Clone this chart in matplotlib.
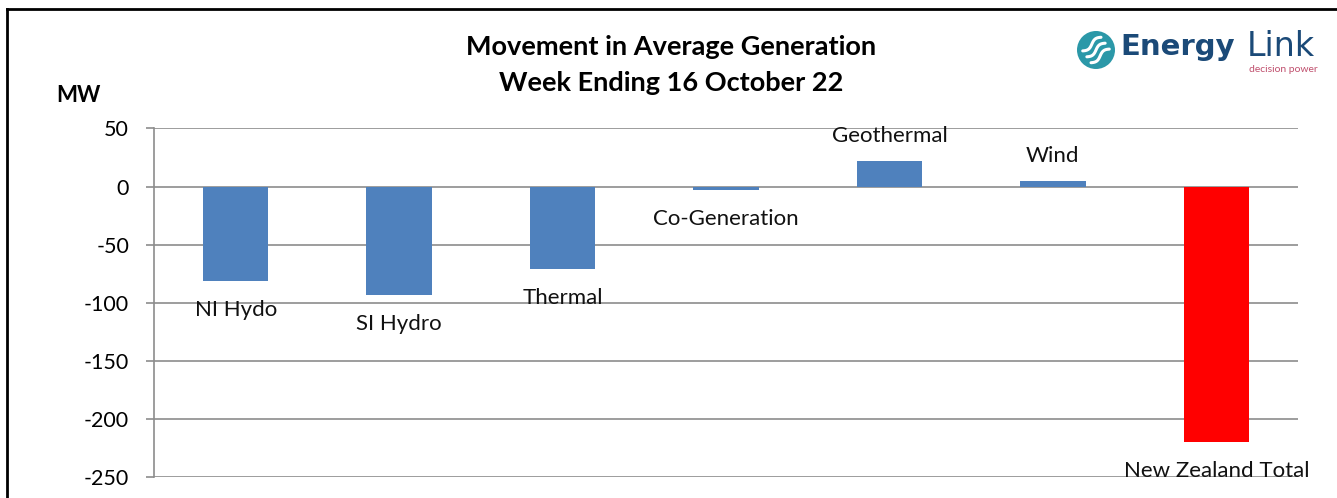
import numpy as np
import matplotlib
matplotlib.use('Agg')
import matplotlib.pyplot as plt
from matplotlib.patches import Circle
from matplotlib.lines import Line2D

plt.rcParams['font.family'] = ['Lato', 'DejaVu Sans']

# ---- data ----
categories = ['NI Hydo', 'SI Hydro', 'Thermal', 'Co-Generation',
              'Geothermal', 'Wind', 'New Zealand Total']
movement_mw = [-81, -93, -71, -3, 22, 5, -220]
bar_colors = ['#4F81BD'] * 6 + ['#FF0000']
y_ticks = [50, 0, -50, -100, -150, -200, -250]

title_lines = ['Movement in Average Generation', 'Week Ending 16 October 22']

W, H = 1337, 498
fig = plt.figure(figsize=(W / 100, H / 100), dpi=100)
ax = fig.add_axes([154 / W, 1 - 477 / H, (1298 - 154) / W, (477 - 128.5) / H])

x = np.arange(len(categories))
ax.bar(x, movement_mw, width=0.4, color=bar_colors, zorder=3)

ax.set_xlim(-0.5, len(categories) - 0.5)
ax.set_ylim(-250, 50)
ax.set_yticks(y_ticks)
ax.set_yticklabels([str(v) for v in y_ticks], fontsize=15.5)
ax.set_xticks([])

grid_col = '#8C8C8C'
ax.yaxis.grid(True, color=grid_col, linewidth=1.2, zorder=0)
for s in ['top', 'right', 'bottom']:
    ax.spines[s].set_visible(False)
ax.spines['left'].set_color(grid_col)
ax.spines['left'].set_linewidth(1.2)
ax.tick_params(axis='y', direction='out', length=6, width=1.2, color=grid_col, pad=12)

# category name labels sitting at the bar ends
for xi, v, name in zip(x, movement_mw, categories):
    off = 18 if v > 0 else -21
    ax.annotate(name, (xi, v), xytext=(0, off), textcoords='offset points',
                ha='center', va='center', fontsize=16, color='#111111', zorder=4)

# titles
fig.text(671 / W, 1 - 47 / H, title_lines[0], ha='center', va='center',
         fontsize=19.5, fontweight='bold')
fig.text(671 / W, 1 - 83 / H, title_lines[1], ha='center', va='center',
         fontsize=19.5, fontweight='bold')
fig.text(78 / W, 1 - 96 / H, 'MW', ha='center', va='center', fontsize=16, fontweight='bold')

# logo: teal disc with three white waves
cx, cy, r = 1096, 50, 19
logo_ax = fig.add_axes([(cx - r) / W, 1 - (cy + r) / H, 2 * r / W, 2 * r / H])
logo_ax.set_xlim(-1, 1)
logo_ax.set_ylim(-1, 1)
logo_ax.axis('off')
disc = Circle((0, 0), 1, facecolor='#2B98A8', edgecolor='none')
logo_ax.add_patch(disc)
t = np.linspace(-0.6, 0.6, 50)
ang = np.deg2rad(35)
for k in (-0.38, 0.0, 0.38):
    u, w = t, k + 0.12 * np.sin(t * 5)
    xs = u * np.cos(ang) - w * np.sin(ang)
    ys = u * np.sin(ang) + w * np.cos(ang)
    ln, = logo_ax.plot(xs, ys, color='white', linewidth=2.2, solid_capstyle='round')
    ln.set_clip_path(disc)
fig.text(1120 / W, 1 - 47 / H, 'Energy', ha='left', va='center', fontsize=21,
         fontweight='bold', color='#1B4A78', family='DejaVu Sans')
fig.text(1247 / W, 1 - 46 / H, 'Link', ha='left', va='center', fontsize=24,
         color='#1B4A78', family='DejaVu Sans')
fig.text(1318 / W, 1 - 69 / H, 'decision power', ha='right', va='center', fontsize=7.5,
         color='#C0506E')

# outer frame (top and left edges visible)
fig.lines.append(Line2D([7 / W, 7 / W], [0, 1 - 9 / H], transform=fig.transFigure,
                        color='black', linewidth=2))
fig.lines.append(Line2D([7 / W, 1], [1 - 9 / H, 1 - 9 / H], transform=fig.transFigure,
                        color='black', linewidth=2))

fig.savefig('out.png', dpi=100)
